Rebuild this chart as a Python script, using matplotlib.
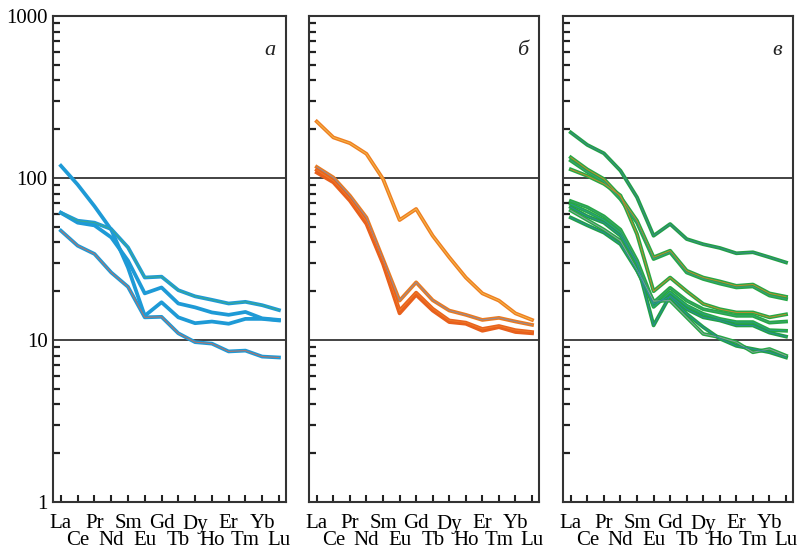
import matplotlib
matplotlib.use("Agg")
import matplotlib.pyplot as plt
from matplotlib.ticker import NullFormatter, FixedLocator
import numpy as np

elements = ["La", "Ce", "Pr", "Nd", "Sm", "Eu", "Gd", "Tb", "Dy", "Ho", "Er", "Tm", "Yb", "Lu"]
panel_labels = ["а", "б", "в"]

# Panel а (blue)
a1 = [61, 54.5, 53, 48.4, 37.3, 24.3, 24.6, 20.3, 18.6, 17.7, 16.8, 17.2, 16.4, 15.3]
a2 = [61, 53, 51, 43, 30.9, 19.4, 21.1, 16.8, 15.9, 14.8, 14.3, 14.9, 13.6, 13.3]
a3 = [119, 91, 67, 48, 28, 14.1, 17.1, 13.8, 12.7, 13.0, 12.6, 13.5, 13.5, 13.2]
a4 = [47.3, 38.2, 34, 26.1, 21.3, 13.8, 13.9, 11.0, 9.7, 9.5, 8.5, 8.6, 7.9, 7.8]

# Panel б (orange)
b1 = [223, 178, 164, 141, 98.6, 55, 64.4, 44, 32.4, 24.3, 19.4, 17.5, 14.6, 13.3]
b2 = [117, 100.8, 77.8, 57, 31.6, 17.5, 22.7, 17.6, 15.2, 14.3, 13.3, 13.7, 13.0, 12.4]
b3 = [108, 94, 72.4, 52, 29.5, 14.6, 19.0, 15.2, 12.9, 12.6, 11.4, 12.0, 11.2, 11.0]
b4 = [112, 96, 74, 54, 30.5, 15.2, 19.6, 15.6, 13.2, 12.8, 11.7, 12.2, 11.5, 11.2]

# Panel в (green)
c1 = [191, 160, 142, 111, 76, 44, 52, 42, 39, 37, 34.3, 34.8, 32.4, 30.1]
c2 = [134, 113, 98.6, 76.6, 54.5, 32.4, 35.6, 26.8, 24.3, 23, 21.6, 22.0, 19.4, 18.5]
c3 = [128, 109, 95, 74, 53, 31.6, 34.8, 26.1, 23.8, 22.3, 21.1, 21.4, 18.8, 17.9]
c4 = [113, 103, 92, 78, 45, 20.0, 24.3, 20.0, 16.7, 15.5, 14.8, 14.8, 13.8, 14.4]
c5 = [72, 66, 58, 48, 31, 17.0, 21.0, 17.5, 15.5, 14.8, 14.1, 14.1, 12.8, 13.0]
c6 = [69, 62, 55, 46, 29.5, 16.0, 19.7, 16.3, 14.5, 13.5, 12.9, 12.9, 11.5, 11.4]
c7 = [66, 58, 53, 44, 30, 12.3, 18.8, 15.5, 13.8, 13.2, 12.3, 12.3, 11.1, 10.5]
c8 = [63, 55, 48, 41, 27, 17.4, 17.5, 13.8, 10.9, 10.4, 9.7, 8.4, 8.8, 8.0]
c9 = [57, 51, 46, 39, 26.8, 16.7, 18.5, 14.5, 12.0, 10.2, 9.2, 8.8, 8.4, 7.8]

panels = [
    [(a1, "#1E9AD6", "#3DAA8C"), (a2, "#1E9AD6", "#1E9AD6"), (a3, "#1E9AD6", "#1E9AD6"), (a4, "#1E9AD6", "#C07060")],
    [(b1, "#EE7E22", "#F4B848"), (b2, "#EC7A1E", "#8C8CA0"), (b4, "#E8641C", "#EE7A2A"), (b3, "#E8601C", "#E8601C")],
    [(c1, "#22A045", "#3A8A8A"), (c2, "#26A844", "#C08A30"), (c3, "#26A844", "#3A9A80"), (c4, "#26A844", "#C08A30"),
     (c5, "#26A844", "#3AA070"), (c6, "#26A844", "#2A9A8A"), (c7, "#22A045", "#2A8A9A"), (c8, "#26A844", "#8AA0A0"),
     (c9, "#22A045", "#2A8A9A")],
]

W, H = 805, 556
fig = plt.figure(figsize=(W / 100, H / 100), dpi=100)
lefts = [53, 309, 563]
widths = [233, 230, 230]
top, bottom = 16, 502
serif = ["Liberation Serif", "DejaVu Serif"]

minor_y = [m * 10 ** e for e in range(0, 3) for m in range(2, 10)]

x = np.arange(1, len(elements) + 1)
for i, ax_left in enumerate(lefts):
    ax = fig.add_axes([ax_left / W, 1 - bottom / H, widths[i] / W, (bottom - top) / H])
    ax.set_yscale("log")
    ax.set_ylim(1, 1000)
    ax.set_xlim(0.53, 14.42)
    for yv in (10, 100):
        ax.axhline(yv, color="#222222", lw=1.2, zorder=1)
    for vals, outer, inner in panels[i]:
        ax.plot(x, vals, color=outer, lw=2.7, solid_joinstyle="round", zorder=3)
        ax.plot(x, vals, color=inner, lw=0.7, zorder=4)
    for s in ax.spines.values():
        s.set_linewidth(1.5)
        s.set_color("#333333")
    ax.yaxis.set_major_locator(FixedLocator([1, 10, 100, 1000]))
    ax.yaxis.set_minor_locator(FixedLocator(minor_y))
    ax.yaxis.set_minor_formatter(NullFormatter())
    ax.tick_params(axis="y", which="major", length=0, pad=4, labelsize=15)
    ax.tick_params(axis="y", which="minor", direction="in", length=5, width=1.6,
                   color="#222222", left=True, right=False)
    if i == 0:
        ax.set_yticklabels(["1", "10", "100", "1000"], fontfamily=serif)
    else:
        ax.set_yticklabels([])
    ax.set_xticks(x[::2])
    ax.set_xticklabels(elements[::2], fontfamily=serif, fontsize=15)
    ax.set_xticks(x[1::2], minor=True)
    ax.set_xticklabels(elements[1::2], minor=True, fontfamily=serif, fontsize=15)
    ax.tick_params(axis="x", which="major", direction="in", length=5, width=1.5, pad=9, color="#222222")
    ax.tick_params(axis="x", which="minor", direction="in", length=5, width=1.5, pad=21, color="#222222")
    ax.text(0.93, 0.93, panel_labels[i], transform=ax.transAxes, fontsize=16, style="italic",
            fontfamily=serif, ha="center", va="center", color="#222222")

fig.savefig("out.png", dpi=100, facecolor="white")
